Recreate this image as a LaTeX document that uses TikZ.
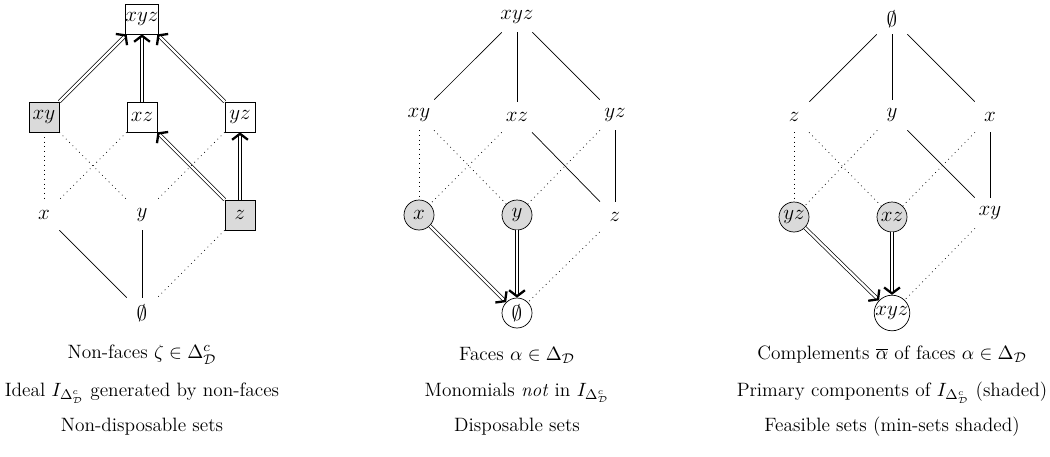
\documentclass[tikz,border=0pt]{standalone}
\usepackage{amsmath,amssymb}
\usetikzlibrary{arrows.meta}
\definecolor{setShade}{HTML}{DADADA}
\tikzset{
  vset/.style={inner sep=0pt, minimum size=0.6cm, font=\large},
  boxset/.style={vset, draw, thin, fill=#1},
  ringset/.style={vset, draw, thin, circle, fill=#1},
  cover/.style={thin},
  hidden/.style={thin, dash pattern=on 0.45pt off 2.2pt},
  flow/.style={double, double distance=1.3pt, thin, -{Straight Barb[length=3.4pt, width=9pt, line width=1.3pt]}},
  caption/.style={font=\fontsize{11}{13}\selectfont, align=center, inner sep=0pt},
}

\begin{document}
\begin{tikzpicture}[x=0.02cm, y=-0.02cm]
\useasboundingbox (0,0) rectangle (1050,456);

% non-faces
\node[boxset=white] (n-xyz) at (142,19) {$xyz$};
\node[boxset=setShade] (n-xy) at (44,117) {$xy$};
\node[boxset=white] (n-xz) at (142,117) {$xz$};
\node[boxset=white] (n-yz) at (240,117) {$yz$};
\node[vset] (n-x) at (44,215) {$x$};
\node[vset] (n-y) at (142,215) {$y$};
\node[boxset=setShade] (n-z) at (240,215) {$z$};
\node[vset] (n-0) at (142,313) {$\emptyset$};
\draw[flow] (n-xy) -- (n-xyz);
\draw[flow] (n-xz) -- (n-xyz);
\draw[flow] (n-yz) -- (n-xyz);
\draw[flow] (n-z) -- (n-xz);
\draw[flow] (n-z) -- (n-yz);
\draw[hidden] (n-xy) -- (n-x);
\draw[hidden] (n-xy) -- (n-y);
\draw[hidden] (n-xz) -- (n-x);
\draw[hidden] (n-yz) -- (n-y);
\draw[hidden] (n-z) -- (n-0);
\draw[cover] (n-x) -- (n-0);
\draw[cover] (n-y) -- (n-0);
\node[caption] (n-cap1) at (142,355) {Non-faces $\zeta \in \Delta^c_{\mathcal{D}}$};
\node[caption] (n-cap2) at (142,393) {Ideal $I_{\Delta^c_{\mathcal{D}}}$ generated by non-faces};
\node[caption] (n-cap3) at (142,427) {Non-disposable sets};

% faces
\node[vset] (f-xyz) at (517,17) {$xyz$};
\node[vset] (f-xy) at (419,115) {$xy$};
\node[vset] (f-xz) at (517,117) {$xz$};
\node[vset] (f-yz) at (615,115) {$yz$};
\node[ringset=setShade] (f-x) at (419,215) {$x$};
\node[ringset=setShade] (f-y) at (517,215) {$y$};
\node[vset] (f-z) at (615,217) {$z$};
\node[ringset=white] (f-0) at (517,313) {$\emptyset$};
\draw[cover] (f-xyz) -- (f-xy);
\draw[cover] (f-xyz) -- (f-xz);
\draw[cover] (f-xyz) -- (f-yz);
\draw[cover] (f-xz) -- (f-z);
\draw[cover] (f-yz) -- (f-z);
\draw[hidden] (f-xy) -- (f-x);
\draw[hidden] (f-xy) -- (f-y);
\draw[hidden] (f-xz) -- (f-x);
\draw[hidden] (f-yz) -- (f-y);
\draw[hidden] (f-z) -- (f-0);
\draw[flow] (f-x) -- (f-0);
\draw[flow] (f-y) -- (f-0);
\node[caption] (f-cap1) at (517,355) {Faces $\alpha \in \Delta_{\mathcal{D}}$};
\node[caption] (f-cap2) at (517,393) {Monomials \emph{not} in $I_{\Delta^c_{\mathcal{D}}}$};
\node[caption] (f-cap3) at (517,427) {Disposable sets};

% complements
\node[vset] (c-0) at (892,19) {$\emptyset$};
\node[vset] (c-z) at (794,117) {$z$};
\node[vset] (c-y) at (892,115) {$y$};
\node[vset] (c-x) at (990,117) {$x$};
\node[ringset=setShade] (c-yz) at (794,217) {$yz$};
\node[ringset=setShade] (c-xz) at (892,217) {$xz$};
\node[vset] (c-xy) at (990,213) {$xy$};
\node[ringset=white] (c-xyz) at (892,313) {$xyz$};
\draw[cover] (c-0) -- (c-z);
\draw[cover] (c-0) -- (c-y);
\draw[cover] (c-0) -- (c-x);
\draw[cover] (c-y) -- (c-xy);
\draw[cover] (c-x) -- (c-xy);
\draw[hidden] (c-z) -- (c-yz);
\draw[hidden] (c-z) -- (c-xz);
\draw[hidden] (c-y) -- (c-yz);
\draw[hidden] (c-x) -- (c-xz);
\draw[hidden] (c-xy) -- (c-xyz);
\draw[flow] (c-yz) -- (c-xyz);
\draw[flow] (c-xz) -- (c-xyz);
\node[caption] (c-cap1) at (892,355) {Complements $\overline{\alpha}$ of faces $\alpha \in \Delta_{\mathcal{D}}$};
\node[caption] (c-cap2) at (892,393) {Primary components of $I_{\Delta^c_{\mathcal{D}}}$ (shaded)};
\node[caption] (c-cap3) at (892,427) {Feasible sets (min-sets shaded)};
\end{tikzpicture}
\end{document}
